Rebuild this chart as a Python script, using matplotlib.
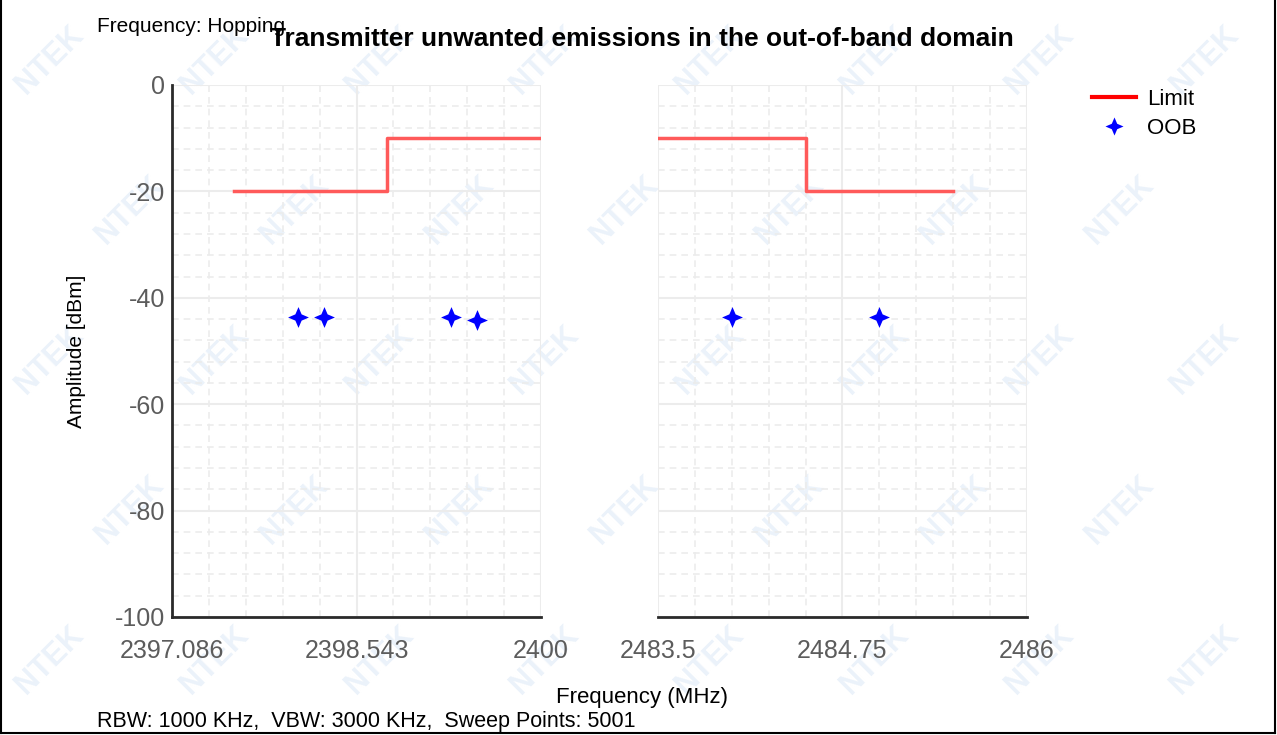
import numpy as np
import matplotlib
matplotlib.use("Agg")
import matplotlib.pyplot as plt
from matplotlib.lines import Line2D

plt.rcParams["font.family"] = ["Liberation Sans", "DejaVu Sans"]
plt.rcParams["axes.unicode_minus"] = False

# left band (below 2400 MHz)
left_range = [2397.086, 2400.0]
left_ticks = [2397.086, 2398.543, 2400.0]
left_limit_f = [2397.576, 2398.784, 2398.784, 2400.0]
left_limit_db = [-20, -20, -10, -10]
left_oob_f = [2398.083, 2398.289, 2399.287, 2399.492]
left_oob_db = [-43.6, -43.7, -43.6, -44.2]

# right band (above 2483.5 MHz)
right_range = [2483.5, 2486.0]
right_ticks = [2483.5, 2484.75, 2486.0]
right_limit_f = [2483.5, 2484.5, 2484.5, 2485.5]
right_limit_db = [-10, -10, -20, -20]
right_oob_f = [2484.0, 2485.0]
right_oob_db = [-43.6, -43.6]

y_range = [-100, 0]
y_ticks = [0, -20, -40, -60, -80, -100]

W, H = 1277, 735
fig = plt.figure(figsize=(W / 100, H / 100), dpi=100)


def px_axes(x0, y0, x1, y1):
    return fig.add_axes([x0 / W, 1 - y1 / H, (x1 - x0) / W, (y1 - y0) / H])


# four-pointed star like the instrument software draws
star = [(0, 1), (0.3, 0.3), (1, 0), (0.3, -0.3), (0, -1), (-0.3, -0.3), (-1, 0), (-0.3, 0.3), (0, 1)]
tick_col = "#5c5c5c"
grid_col = "#ececec"


def setup(ax, xr, ticks, labels, show_left):
    ax.set_xlim(xr)
    ax.set_ylim(y_range)
    ax.set_xticks(ticks)
    ax.set_xticklabels(labels)
    ax.set_xticks(np.linspace(xr[0], xr[1], 11), minor=True)
    ax.set_yticks(y_ticks)
    ax.set_yticks(np.arange(-100, 1, 4), minor=True)
    ax.grid(True, which="major", color=grid_col, lw=1.5, ls="-")
    ax.grid(True, which="minor", color=grid_col, lw=1.2, ls=(0, (4, 3)))
    ax.set_axisbelow(True)
    ax.patch.set_alpha(0)
    ax.tick_params(which="both", length=0, labelsize=18, colors=tick_col)
    ax.tick_params(axis="x", pad=16)
    for s in ["top", "right"]:
        ax.spines[s].set_visible(False)
    ax.spines["bottom"].set_color("#2a2a2a")
    ax.spines["bottom"].set_linewidth(2)
    if show_left:
        ax.spines["left"].set_color("#2a2a2a")
        ax.spines["left"].set_linewidth(2)
        ax.tick_params(axis="y", pad=5)
    else:
        ax.spines["left"].set_visible(False)
        ax.tick_params(axis="y", labelleft=False)


# faint watermark, kept inside the frame
for r, yy in enumerate(range(60, 720, 150)):
    for xx in range(50, 1260, 165):
        x = xx + (r % 2) * 80
        if x > 1235:
            continue
        fig.text(x / W, 1 - yy / H, "NTEK", rotation=45, fontsize=22, fontweight="bold",
                 color="#ebf2fa", ha="center", va="center", zorder=-5)

ax1 = px_axes(172, 85, 541, 617)
ax2 = px_axes(658, 85, 1027, 617)

setup(ax1, left_range, left_ticks, ["2397.086", "2398.543", "2400"], True)
setup(ax2, right_range, right_ticks, ["2483.5", "2484.75", "2486"], False)

ax1.plot(left_limit_f, left_limit_db, color="#ff5a5a", lw=2.5, zorder=3)
ax2.plot(right_limit_f, right_limit_db, color="#ff5a5a", lw=2.5, zorder=3)
ax1.plot(left_oob_f, left_oob_db, ls="none", marker=star, ms=15, mew=0, color="#0000ff", zorder=4)
ax2.plot(right_oob_f, right_oob_db, ls="none", marker=star, ms=15, mew=0, color="#0000ff", zorder=4)

fig.text(642 / W, 1 - 39 / H, "Transmitter unwanted emissions in the out-of-band domain",
         ha="center", va="center", fontsize=19, fontweight="bold")
fig.text(97 / W, 1 - 27 / H, "Frequency: Hopping", ha="left", va="center", fontsize=15)
fig.text(642 / W, 1 - 697 / H, "Frequency (MHz)", ha="center", va="center", fontsize=16)
fig.text(97 / W, 1 - 721 / H, "RBW: 1000 KHz,  VBW: 3000 KHz,  Sweep Points: 5001",
         ha="left", va="center", fontsize=15.5)
fig.text(76 / W, 1 - 351 / H, "Amplitude [dBm]", rotation=90, ha="center", va="center", fontsize=15)

handles = [Line2D([], [], color="red", lw=3),
           Line2D([], [], ls="none", marker=star, ms=13, mew=0, color="#0000ff")]
fig.legend(handles, ["Limit", "OOB"], loc="upper left", bbox_to_anchor=(1083 / W, 1 - 80 / H),
           frameon=False, fontsize=16, handlelength=2.0, handletextpad=0.5, labelspacing=0.35,
           borderaxespad=0)

# outer frame
for xs, ys in [([1, 1], [0, 733]), ([1, 1275], [733, 733]), ([1275, 1275], [0, 733])]:
    fig.add_artist(Line2D([x / W for x in xs], [1 - y / H for y in ys], color="black", lw=1.5))

fig.savefig("out.png", dpi=100)
